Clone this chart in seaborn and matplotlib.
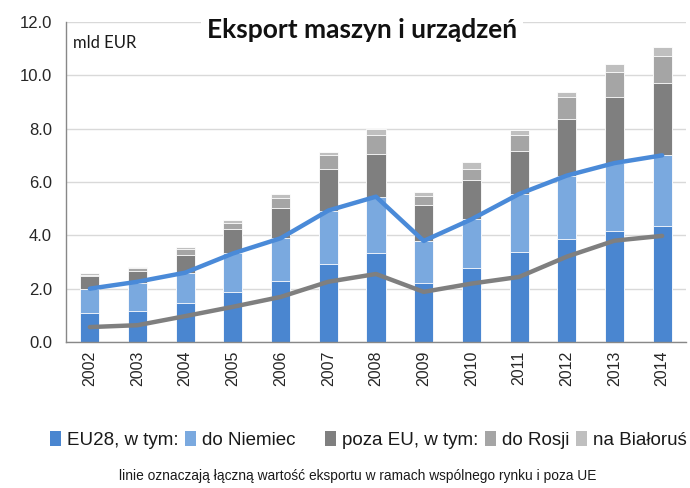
import numpy as np
import pandas as pd
import matplotlib
matplotlib.use("Agg")
import matplotlib.pyplot as plt
import seaborn as sns
from matplotlib.patches import Patch

years = ["2002", "2003", "2004", "2005", "2006", "2007", "2008",
         "2009", "2010", "2011", "2012", "2013", "2014"]
eu_other = [1.07, 1.17, 1.47, 1.88, 2.28, 2.92, 3.32, 2.22, 2.78, 3.38, 3.85, 4.17, 4.36]
de = [0.90, 1.05, 1.13, 1.44, 1.61, 2.01, 2.13, 1.57, 1.82, 2.17, 2.39, 2.54, 2.66]
non_eu_other = [0.49, 0.45, 0.68, 0.90, 1.15, 1.54, 1.61, 1.36, 1.49, 1.63, 2.12, 2.48, 2.69]
ru = [0.05, 0.09, 0.19, 0.25, 0.37, 0.55, 0.71, 0.34, 0.41, 0.60, 0.81, 0.92, 1.00]
by = [0.06, 0.06, 0.08, 0.12, 0.14, 0.10, 0.23, 0.15, 0.24, 0.18, 0.22, 0.33, 0.34]
eu_total_line = [2.00, 2.26, 2.60, 3.32, 3.89, 4.93, 5.45, 3.79, 4.60, 5.55, 6.24, 6.71, 7.00]
non_eu_total_line = [0.56, 0.63, 0.97, 1.32, 1.69, 2.26, 2.55, 1.88, 2.19, 2.44, 3.20, 3.80, 3.98]

labels = ["EU28, w tym:", "do Niemiec", "poza EU, w tym:", "do Rosji", "na Białoruś"]
colors = ["#4a86d0", "#7aa9df", "#7f7f7f", "#a5a5a5", "#bfbfbf"]
line_colors = ["#4a8ad8", "#7f7f7f"]

sns.set_style("white")
plt.rcParams["font.family"] = ["Liberation Sans", "DejaVu Sans"]

fig = plt.figure(figsize=(6.9, 4.88), dpi=100)
ax = fig.add_axes([66 / 690, 1 - 342 / 488, 620 / 690, 320 / 488])

series = [eu_other, de, non_eu_other, ru, by]
cum = np.cumsum(np.array(series), axis=0)
df = pd.DataFrame({"year": years})
for i in range(len(series) - 1, -1, -1):
    df["v"] = cum[i]
    sns.barplot(data=df, x="year", y="v", order=years, color=colors[i],
                width=0.4, edgecolor="white", linewidth=0.6, saturation=1,
                ax=ax, zorder=2)

pos = np.arange(len(years))
sns.lineplot(x=pos, y=eu_total_line, color=line_colors[0], linewidth=3.2, ax=ax, zorder=4)
sns.lineplot(x=pos, y=non_eu_total_line, color=line_colors[1], linewidth=3.2, ax=ax, zorder=4)

ax.set_xlim(-0.5, len(years) - 0.5)
ax.set_ylim(0, 12)
ax.set_yticks(np.arange(0, 12.1, 2))
ax.set_yticklabels([f"{v:.1f}" for v in np.arange(0, 12.1, 2)], fontsize=12, color="#262626")
ax.set_xticks(pos)
ax.set_xticklabels(years, rotation=90, fontsize=11.5, color="#262626")
ax.set_xticks(np.arange(-0.5, len(years), 1), minor=True)
ax.tick_params(axis="x", which="major", length=0, pad=6)
ax.tick_params(axis="x", which="minor", length=5, color="#888888", width=1, direction="out")
ax.tick_params(axis="y", length=6, color="#888888", width=1, direction="out", pad=4)
ax.set_xlabel("")
ax.set_ylabel("")
ax.yaxis.grid(True, color="#d9d9d9", linewidth=1, zorder=0)
ax.set_axisbelow(True)
for s in ["top", "right"]:
    ax.spines[s].set_visible(False)
for s in ["left", "bottom"]:
    ax.spines[s].set_color("#888888")
    ax.spines[s].set_linewidth(1)
if ax.get_legend():
    ax.get_legend().remove()

ax.text(0.012, 0.935, "mld EUR", transform=ax.transAxes, fontsize=12,
        family=["Lato", "DejaVu Sans"], color="#1a1a1a", va="center", ha="left")

fig.text(362 / 690, 1 - 30 / 488, "Eksport maszyn i urządzeń", ha="center", va="center",
         fontsize=19, fontweight="bold", family=["Lato", "DejaVu Sans"], color="#111111",
         bbox=dict(facecolor="white", edgecolor="none", pad=4))

handles = [Patch(facecolor=c, edgecolor="none") for c in colors]
blank = Patch(facecolor="none", edgecolor="none")
leg_handles = handles[:2] + [blank] + handles[2:]
leg_labels = labels[:2] + [""] + labels[2:]
leg = fig.legend(leg_handles, leg_labels, loc="center", bbox_to_anchor=(368 / 690, 1 - 440 / 488),
                 ncol=6, frameon=False, handlelength=0.6, handleheight=0.9,
                 handletextpad=0.3, columnspacing=0.35,
                 prop={"family": ["Liberation Sans", "DejaVu Sans"], "size": 13.5})
for t in leg.get_texts():
    t.set_color("#1a1a1a")

fig.text(358 / 690, 1 - 476 / 488,
         "linie oznaczają łączną wartość eksportu w ramach wspólnego rynku i poza UE",
         ha="center", va="center", fontsize=9.9,
         family=["Liberation Sans", "DejaVu Sans"], color="#1a1a1a")

fig.savefig("out.png", dpi=100)
